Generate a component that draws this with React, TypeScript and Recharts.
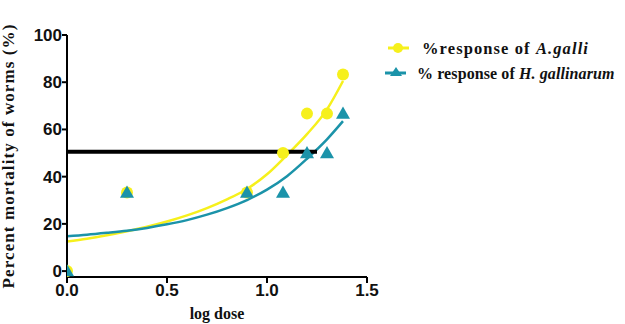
import React from "react";
import { ComposedChart, Line, Scatter, XAxis, YAxis } from "recharts";

// observed points
const logDose = [0, 0.3, 0.9, 1.08, 1.2, 1.3, 1.38];
const galliResponse = [0, 33.3, 33.3, 50, 66.7, 66.7, 83.3];
const gallinarumResponse = [0, 33.3, 33.3, 33.3, 50, 50, 66.7];

// fitted curves
const fitDose = [0, 0.1, 0.2, 0.3, 0.4, 0.5, 0.6, 0.7, 0.8, 0.9, 1.0, 1.1, 1.2, 1.3, 1.38];
const galliFit = [12.5, 13.7, 15.2, 16.9, 18.8, 21, 23.6, 26.7, 30.4, 34.8, 41, 49.2, 58, 68.5, 80.5];
const gallinarumFit = [14.8, 15.4, 16.2, 17.1, 18.3, 19.8, 21.6, 23.9, 26.7, 30.1, 34.5, 40.2, 47.6, 55.8, 63.5];

// LC50 line
const lc50Dose = [0, 1.25];
const lc50Level = 50.5;

const xTicks = [0, 0.5, 1.0, 1.5];
const yTicks = [0, 20, 40, 60, 80, 100];

const YELLOW = "#f6f01c";
const TEAL = "#1b93a9";
const SERIF = "'Liberation Serif', 'Times New Roman', serif";

const toPoints = (xs: number[], ys: number[]) => xs.map((x, i) => ({ x, y: ys[i] }));

const galliPts = toPoints(logDose, galliResponse);
const gallinarumPts = toPoints(logDose, gallinarumResponse);
const galliCurve = toPoints(fitDose, galliFit);
const gallinarumCurve = toPoints(fitDose, gallinarumFit);
const lc50Line = lc50Dose.map((x) => ({ x, y: lc50Level }));

const tickStyle = {
  fill: "#111",
  fontSize: 17,
  fontWeight: 700,
  fontFamily: "'Liberation Sans', Arial, sans-serif",
};

function CircleDot(props: any) {
  const { cx, cy } = props;
  return <circle cx={cx} cy={cy} r={6} fill={YELLOW} />;
}

function TriangleDot(props: any) {
  const { cx, cy } = props;
  const s = 7;
  return (
    <polygon
      points={`${cx},${cy - s} ${cx - s},${cy + s * 0.75} ${cx + s},${cy + s * 0.75}`}
      fill={TEAL}
    />
  );
}

function LegendBox() {
  return (
    <svg width={240} height={50} style={{ position: "absolute", left: 383, top: 38 }}>
      <line x1={5} y1={10} x2={26} y2={10} stroke={YELLOW} strokeWidth={3} />
      <circle cx={15} cy={10} r={5} fill={YELLOW} />
      <text x={39} y={16} fontFamily={SERIF} fontWeight={700} fontSize={16.5} letterSpacing={1.1} fill="#111">
        %response of <tspan fontStyle="italic">A.galli</tspan>
      </text>
      <line x1={2} y1={35} x2={23} y2={35} stroke={TEAL} strokeWidth={3} />
      <polygon points="13,29 7,38 19,38" fill={TEAL} />
      <text x={34} y={41} fontFamily={SERIF} fontWeight={700} fontSize={16} letterSpacing={0.1} fill="#111">
        % response of <tspan fontStyle="italic">H. gallinarum</tspan>
      </text>
    </svg>
  );
}

export default function App() {
  return (
    <div style={{ position: "absolute", left: 0, top: 0, width: 625, height: 324, background: "#fff" }}>
      <ComposedChart
        width={625}
        height={324}
        margin={{ top: 35, right: 258, bottom: 17, left: 0 }}
      >
        <XAxis
          dataKey="x"
          type="number"
          domain={[0, 1.5]}
          ticks={xTicks}
          tickFormatter={(v: number) => v.toFixed(1)}
          tick={tickStyle}
          tickSize={6}
          tickMargin={1}
          height={30}
          axisLine={{ stroke: "#000", strokeWidth: 2 }}
          tickLine={{ stroke: "#000", strokeWidth: 2 }}
          allowDataOverflow
          label={{
            value: "log dose",
            position: "bottom",
            offset: 1,
            style: { fontFamily: SERIF, fontWeight: 700, fontSize: 16, fill: "#111" },
          }}
        />
        <YAxis
          dataKey="y"
          type="number"
          domain={[-2.5, 100]}
          ticks={yTicks}
          tick={tickStyle}
          tickSize={5}
          tickMargin={0}
          width={67}
          axisLine={{ stroke: "#000", strokeWidth: 2 }}
          tickLine={{ stroke: "#000", strokeWidth: 2 }}
          allowDataOverflow
          label={{
            value: "Percent mortality of worms (%)",
            angle: -90,
            position: "insideLeft",
            offset: 8,
            style: {
              textAnchor: "middle",
              fontFamily: SERIF,
              fontWeight: 700,
              fontSize: 17,
              letterSpacing: 1.1,
              fill: "#111",
            },
          }}
        />
        <Line
          data={galliCurve}
          dataKey="y"
          type="monotone"
          stroke={YELLOW}
          strokeWidth={2.5}
          dot={false}
          activeDot={false}
          isAnimationActive={false}
        />
        <Line
          data={gallinarumCurve}
          dataKey="y"
          type="monotone"
          stroke={TEAL}
          strokeWidth={2.5}
          dot={false}
          activeDot={false}
          isAnimationActive={false}
        />
        <Scatter data={galliPts} dataKey="y" shape={<CircleDot />} isAnimationActive={false} />
        <Scatter data={gallinarumPts} dataKey="y" shape={<TriangleDot />} isAnimationActive={false} />
        <Line
          data={lc50Line}
          dataKey="y"
          type="linear"
          stroke="#000"
          strokeWidth={4}
          dot={false}
          activeDot={false}
          isAnimationActive={false}
        />
      </ComposedChart>
      <LegendBox />
    </div>
  );
}
